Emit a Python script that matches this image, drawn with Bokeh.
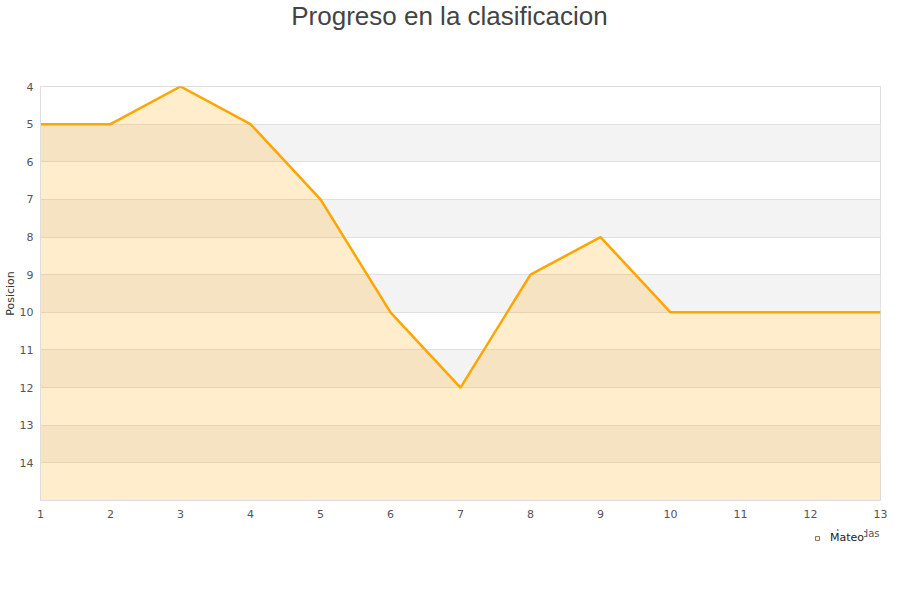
from bokeh.plotting import figure
from bokeh.layouts import column
from bokeh.models import (FixedTicker, Range1d, Legend, LegendItem, Label)
from bokeh.embed import file_html
from bokeh.resources import INLINE

# Ranking progress per matchday
jornadas = [1, 2, 3, 4, 5, 6, 7, 8, 9, 10, 11, 12, 13]
posicion = [5, 5, 4, 5, 7, 10, 12, 9, 8, 10, 10, 10, 10]
y_ticks = [4, 5, 6, 7, 8, 9, 10, 11, 12, 13, 14]
x_ticks = jornadas
serie = "Mateo"
titulo = "Progreso en la clasificacion"
pos_min, pos_max = 4, 15

AREA_COLOR = "#ffa500"
AREA_ALPHA = 0.2

# Heading strip
head = figure(width=900, height=40, output_backend="svg", toolbar_location=None,
              x_axis_type=None, y_axis_type=None,
              x_range=Range1d(0, 1), y_range=Range1d(0, 1),
              min_border=0, outline_line_color=None)
head.grid.visible = False
head.add_layout(Label(x=409, y=25, x_units="screen", y_units="screen",
                      text=titulo, text_align="center", text_baseline="middle",
                      text_font="Liberation Sans", text_font_size="26px",
                      text_color="#444444"))

p = figure(width=900, height=480, output_backend="svg", toolbar_location=None,
           x_range=Range1d(1, 13), y_range=Range1d(pos_max, pos_min),
           min_border_left=40, min_border_right=20, min_border_top=46,
           min_border_bottom=20)

p.outline_line_color = "#dddddd"
p.background_fill_color = "white"
p.border_fill_color = "white"

# Alternating horizontal bands
p.xgrid.visible = False
p.ygrid.ticker = FixedTicker(ticks=y_ticks + [pos_max])
p.ygrid.grid_line_color = "#e0e0e0"
p.ygrid.band_fill_color = "#f3f3f3"
p.ygrid.band_fill_alpha = 1.0

p.varea(x=jornadas, y1=posicion, y2=[pos_max] * len(jornadas),
        fill_color=AREA_COLOR, fill_alpha=AREA_ALPHA)
p.line(x=jornadas, y=posicion, line_color=AREA_COLOR, line_width=2.5)

for ax in (p.xaxis[0], p.yaxis[0]):
    ax.axis_line_color = "#dddddd"
    ax.major_tick_line_color = None
    ax.minor_tick_line_color = None
    ax.major_tick_out = 0
    ax.major_tick_in = 0
    ax.minor_tick_out = 0
    ax.minor_tick_in = 0
    ax.major_label_text_font = "DejaVu Sans"
    ax.major_label_text_font_size = "11px"
    ax.major_label_text_color = "#555555"

p.xaxis.ticker = FixedTicker(ticks=x_ticks)
p.xaxis.major_label_standoff = 9
p.yaxis.ticker = FixedTicker(ticks=y_ticks)
p.yaxis.major_label_standoff = 7
p.yaxis.axis_label = "Posicion"
p.yaxis.axis_label_text_font = "DejaVu Sans"
p.yaxis.axis_label_text_font_size = "11px"
p.yaxis.axis_label_text_font_style = "normal"
p.yaxis.axis_label_text_color = "#333333"
p.yaxis.axis_label_standoff = 0

# Footer strip holding the x-axis caption and the legend
foot = figure(width=900, height=80, output_backend="svg", toolbar_location=None,
              x_axis_type=None, y_axis_type=None,
              x_range=Range1d(0, 1), y_range=Range1d(0, 1),
              min_border_left=40, min_border_right=20, min_border_top=0,
              min_border_bottom=0, outline_line_color=None)
foot.grid.visible = False
# series proxy (outside the strip's view) that supplies the legend swatch
swatch = foot.scatter(x=jornadas, y=posicion, marker="square", size=10,
                      fill_color=AREA_COLOR, fill_alpha=AREA_ALPHA,
                      line_color="#8a7a66", line_width=1)

foot.add_layout(Label(x=839, y=62, x_units="screen", y_units="screen",
                      text="Jornadas", text_align="right",
                      text_font="DejaVu Sans", text_font_size="10px",
                      text_color="#555555"))

legend = Legend(items=[LegendItem(label=serie, renderers=[swatch])],
                location=(772, 56), orientation="horizontal",
                background_fill_color="white", background_fill_alpha=1.0,
                border_line_color=None, label_text_font="DejaVu Sans",
                label_text_font_size="11px", label_text_color="#222222",
                glyph_width=10, glyph_height=10, padding=5, spacing=0,
                label_standoff=8, margin=0, level="overlay")
foot.add_layout(legend, "center")

layout = column(head, p, foot, spacing=0)
open("out.html", "w").write(file_html(layout, INLINE))
